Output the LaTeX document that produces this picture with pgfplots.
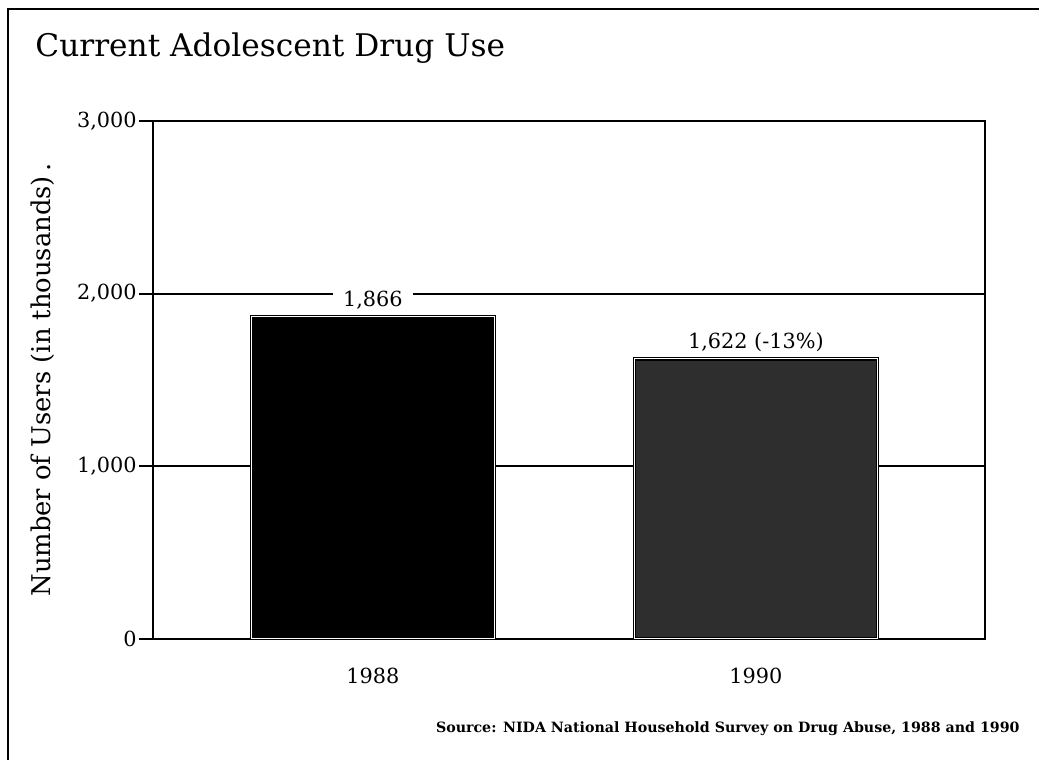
\documentclass[border=0pt]{standalone}
\usepackage{pgfplots}
\pgfplotsset{compat=1.18}
\usepackage{fontspec}
\setmainfont{DejaVu Serif}

\begin{document}
\begin{tikzpicture}
\useasboundingbox (0,0) rectangle (519.5pt,380pt);
% page frame (left and top edges)
\draw[line width=1.2pt] (4pt,0) -- (4pt,375.5pt) -- (519.5pt,375.5pt);
\node[anchor=base west, inner sep=0pt, font=\fontsize{15.6}{18}\selectfont]
  at (17.5pt,351.5pt) {Current Adolescent Drug Use};
\node[anchor=base east, inner sep=0pt, font=\fontsize{7.1}{9}\selectfont\bfseries]
  at (510pt,13.5pt) {Source: NIDA National Household Survey on Drug Abuse, 1988 and 1990};
\begin{axis}[
  at={(76.5pt,60.5pt)}, anchor=south west,
  scale only axis, width=416pt, height=259pt,
  xmin=-0.574, xmax=1.598, ymin=0, ymax=3000,
  xtick={0,1}, xticklabels={1988,1990},
  x tick style={draw=none},
  ytick={0,1000,2000,3000}, yticklabels={0,{1,000},{2,000},{3,000}},
  ytick pos=left, tick align=outside, major tick length=7pt,
  y tick style={black, line width=0.9pt},
  ymajorgrids, grid style={black, line width=0.9pt},
  axis line style={black, line width=1.2pt},
  ticklabel style={font=\fontsize{10.4}{12}\selectfont},
  yticklabel style={inner xsep=1pt},
  xticklabel style={yshift=-4pt},
  ylabel={Number of Users (in thousands)\,.},
  every axis y label/.style={at={(axis description cs:0,0.5)}, xshift=-55pt,
    rotate=90, anchor=center, font=\fontsize{12.9}{14}\selectfont},
  every node near coord/.append style={fill=white, inner xsep=5pt, inner ysep=1.5pt,
    yshift=2pt, font=\fontsize{10.4}{12}\selectfont},
]
\addplot[ybar, bar width=121.5pt, fill=black, draw=black, line width=0.6pt,
  double=white, double distance=0.5pt,
  nodes near coords, point meta=explicit symbolic]
  coordinates {(0,1866) [{1,866}]};
\addplot[ybar, bar width=121.5pt, fill=black!82, draw=black, line width=0.6pt,
  double=white, double distance=0.5pt,
  nodes near coords, point meta=explicit symbolic]
  coordinates {(1,1622) [{1,622 (-13\%)}]};
\end{axis}
\end{tikzpicture}
\end{document}
